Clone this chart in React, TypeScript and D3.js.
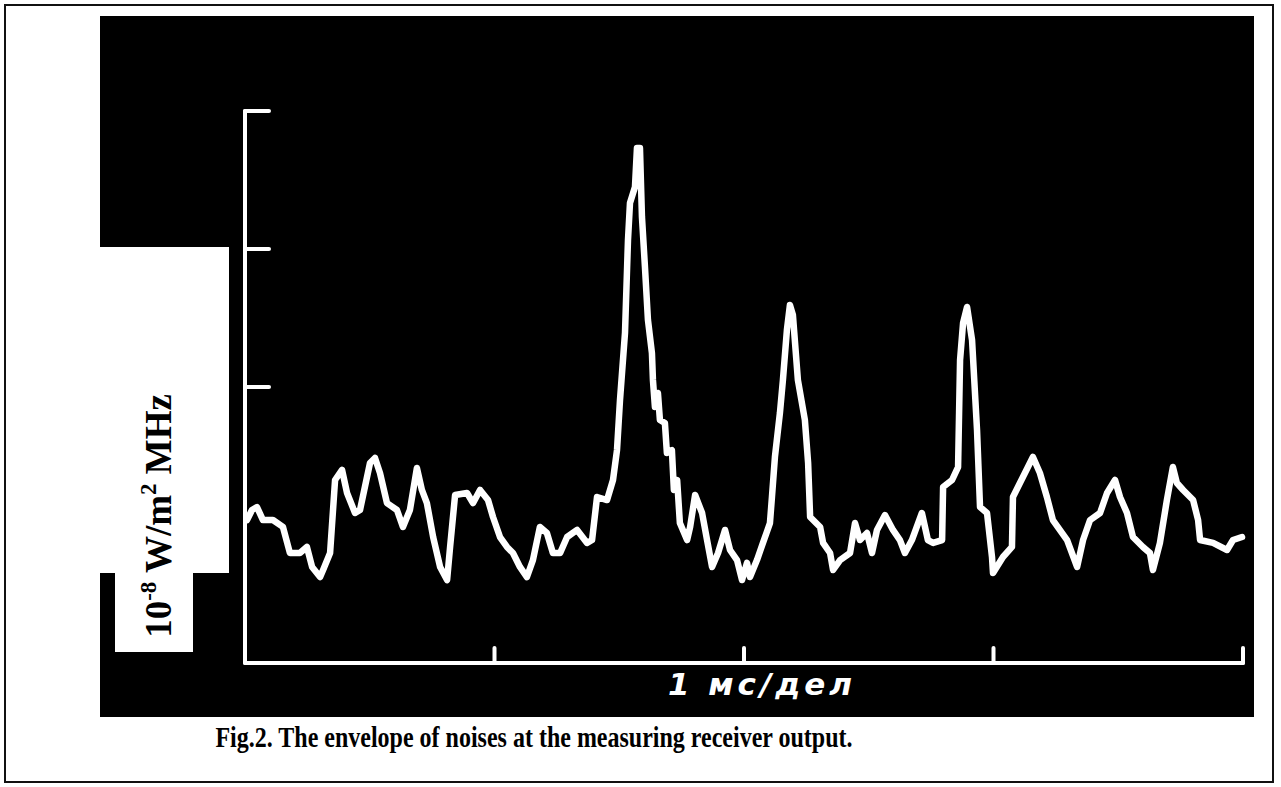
import React from "react";
import * as d3 from "d3";

// time in ms (1 ms per division), amplitude in divisions (1e-8 W/m^2 MHz)
const traceTime: number[] = [
  0.008, 0.028, 0.048, 0.072, 0.112, 0.152, 0.18, 0.22, 0.248, 0.269, 0.301, 0.313, 0.341, 0.361, 0.389, 0.409,
  0.441, 0.461, 0.501, 0.521, 0.541, 0.569, 0.609, 0.633, 0.661, 0.689, 0.709, 0.729, 0.754, 0.782, 0.81, 0.822,
  0.842, 0.89, 0.914, 0.942, 0.974, 0.994, 1.022, 1.05, 1.074, 1.102, 1.13, 1.154, 1.182, 1.21, 1.234, 1.263,
  1.291, 1.331, 1.371, 1.391, 1.411, 1.451, 1.475, 1.491, 1.503, 1.523, 1.535, 1.543, 1.563, 1.571, 1.583, 1.591,
  1.603, 1.615, 1.631, 1.635, 1.643, 1.655, 1.663, 1.683, 1.691, 1.711, 1.719, 1.732, 1.743, 1.772, 1.784, 1.804,
  1.832, 1.852, 1.872, 1.896, 1.924, 1.944, 1.972, 1.992, 2.012, 2.024, 2.052, 2.076, 2.104, 2.112, 2.124, 2.144,
  2.156, 2.172, 2.184, 2.196, 2.216, 2.244, 2.257, 2.265, 2.305, 2.317, 2.345, 2.357, 2.385, 2.425, 2.445, 2.465,
  2.493, 2.513, 2.533, 2.565, 2.597, 2.625, 2.645, 2.673, 2.713, 2.737, 2.758, 2.794, 2.798, 2.834, 2.858, 2.866,
  2.878, 2.894, 2.914, 2.934, 2.946, 2.974, 2.994, 2.998, 3.038, 3.074, 3.078, 3.118, 3.158, 3.186, 3.214, 3.238,
  3.295, 3.335, 3.359, 3.387, 3.427, 3.455, 3.487, 3.507, 3.535, 3.559, 3.599, 3.627, 3.639, 3.667, 3.695, 3.719,
  3.735, 3.76, 3.8, 3.82, 3.828, 3.88, 3.936, 3.96, 3.996,
];

const traceValue: number[] = [
  1.036, 1.109, 1.13, 1.036, 1.036, 0.986, 0.797, 0.797, 0.841, 0.696, 0.623, 0.674, 0.797, 1.326, 1.399, 1.232,
  1.087, 1.109, 1.449, 1.486, 1.377, 1.159, 1.109, 0.986, 1.109, 1.413, 1.254, 1.159, 0.913, 0.696, 0.601, 0.841,
  1.217, 1.232, 1.159, 1.254, 1.181, 1.058, 0.913, 0.841, 0.797, 0.696, 0.623, 0.746, 0.986, 0.942, 0.797, 0.797,
  0.913, 0.964, 0.87, 0.891, 1.203, 1.181, 1.326, 1.543, 1.906, 2.391, 3.065, 3.333, 3.449, 3.732, 3.732, 3.232,
  2.87, 2.486, 2.246, 2.051, 1.855, 1.957, 1.761, 1.739, 1.522, 1.543, 1.254, 1.326, 1.014, 0.891, 0.986, 1.217,
  1.087, 0.891, 0.696, 0.797, 0.964, 0.819, 0.746, 0.601, 0.725, 0.623, 0.746, 0.87, 1.014, 1.203, 1.493, 1.812,
  2.051, 2.413, 2.594, 2.522, 2.051, 1.761, 1.449, 1.058, 0.986, 0.87, 0.797, 0.674, 0.746, 0.797, 1.014, 0.891,
  0.942, 0.797, 0.964, 1.072, 0.964, 0.891, 0.797, 0.891, 1.087, 0.891, 0.87, 0.891, 1.275, 1.326, 1.42, 2.196,
  2.464, 2.58, 2.341, 1.688, 1.13, 1.087, 0.768, 0.652, 0.768, 0.841, 1.203, 1.348, 1.493, 1.377, 1.203, 1.036,
  0.891, 0.696, 0.891, 1.036, 1.087, 1.232, 1.326, 1.203, 1.087, 0.913, 0.841, 0.797, 0.674, 0.87, 1.181, 1.42,
  1.304, 1.254, 1.181, 1.036, 0.891, 0.87, 0.819, 0.891, 0.913,
];

const xTicks: number[] = [1, 2, 3, 4];
const yTicks: number[] = [2, 3, 4];
const xLabel = "1 мс/дел";
const yLabelBase = "10";
const yLabelExp = "-8";
const yLabelUnit = " W/m";
const yLabelSq = "2";
const yLabelTail = " MHz";
const caption = "Fig.2. The envelope of noises at the measuring receiver output.";

export default function App() {
  const W = 1281;
  const H = 787;
  const x = d3.scaleLinear().domain([0, 4]).range([245, 1243]);
  const y = d3.scaleLinear().domain([0, 4]).range([663, 111]);
  const pts: [number, number][] = traceTime.map((t, i) => [t, traceValue[i]]);
  const line = d3
    .line<[number, number]>()
    .x((d) => x(d[0]))
    .y((d) => y(d[1]))
    .curve(d3.curveLinear);

  const serif = "'Liberation Serif', 'Times New Roman', serif";

  return (
    <svg
      width={W}
      height={H}
      style={{ position: "absolute", left: 0, top: 0, display: "block", background: "#fff" }}
    >
      <rect x={0} y={0} width={W} height={H} fill="#fff" />
      <rect x={5} y={5} width={1268} height={777} fill="none" stroke="#111" strokeWidth={2} />
      {/* photo background */}
      <rect x={100} y={16} width={1154} height={701} fill="#000" />
      {/* white label patch */}
      <polygon
        points="100,247 229,247 229,573 193,573 193,652 115,652 115,573 100,573"
        fill="#fff"
      />
      <text
        transform="translate(171,516) rotate(-90)"
        textAnchor="middle"
        fontFamily={serif}
        fontWeight="bold"
        fontSize={37}
        fill="#000"
      >
        {yLabelBase}
        <tspan fontSize={23} dy={-15}>{yLabelExp}</tspan>
        <tspan dy={15}>{yLabelUnit}</tspan>
        <tspan fontSize={23} dy={-15}>{yLabelSq}</tspan>
        <tspan dy={15}>{yLabelTail}</tspan>
      </text>

      {/* axes */}
      <g stroke="#fff" strokeWidth={4} strokeLinecap="round" fill="none">
        <line x1={x(0)} y1={y(4)} x2={x(0)} y2={y(0)} />
        <line x1={x(0)} y1={y(0)} x2={x(4)} y2={y(0)} />
        {yTicks.map((v) => (
          <line key={"yt" + v} x1={x(0)} y1={y(v)} x2={x(0) + 24} y2={y(v)} />
        ))}
        {xTicks.map((v) => (
          <line key={"xt" + v} x1={x(v)} y1={y(0)} x2={x(v)} y2={y(0) - 15} />
        ))}
      </g>

      {/* trace */}
      <path
        d={line(pts) || ""}
        fill="none"
        stroke="#fff"
        strokeWidth={6.5}
        strokeLinejoin="round"
        strokeLinecap="round"
      />

      <text
        x={760}
        y={695}
        textAnchor="middle"
        fontFamily="'DejaVu Sans', sans-serif"
        fontStyle="italic"
        fontWeight="bold"
        fontSize={31}
        fill="#fff"
        textLength={184}
        lengthAdjust="spacing"
      >
        {xLabel}
      </text>

      <text
        transform="translate(534,747) scale(1,1.2)"
        textAnchor="middle"
        fontFamily={serif}
        fontWeight="bold"
        fontSize={24}
        fill="#000"
      >
        {caption}
      </text>
    </svg>
  );
}
